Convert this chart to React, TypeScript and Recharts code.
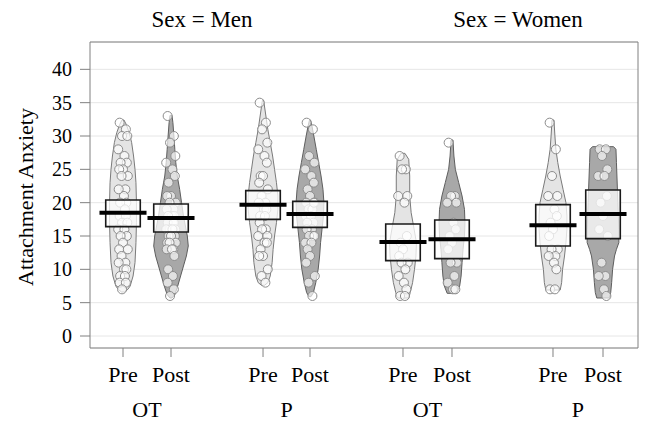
import React from 'react';
import { ComposedChart, Scatter, XAxis, YAxis, CartesianGrid } from 'recharts';

const groupNames = ['Men OT Pre', 'Men OT Post', 'Men P Pre', 'Men P Post', 'Women OT Pre', 'Women OT Post', 'Women P Pre', 'Women P Post'];
const xPositions = [0, 1, 2.917, 3.896, 5.833, 6.854, 8.958, 10];
const timeLabels = ['Pre', 'Post', 'Pre', 'Post', 'Pre', 'Post', 'Pre', 'Post'];
const conditionLabels = ['OT', 'P', 'OT', 'P'];
const sexLabels = ['Sex = Men', 'Sex = Women'];
const sexLabelPositions = [1.646, 8.229];
const yTicks = [0, 5, 10, 15, 20, 25, 30, 35, 40];

const means = [18.5, 17.7, 19.7, 18.3, 14.1, 14.5, 16.6, 18.3];
const bandLow = [16.4, 15.6, 17.5, 16.3, 11.3, 11.6, 13.5, 14.6];
const bandHigh = [20.4, 19.8, 21.8, 20.2, 16.8, 17.4, 19.7, 21.9];

// violin density profiles: [value, half width]
const violinProfiles: number[][][] = [
  [[6.6, 0.03], [7, 0.1], [7.5, 0.15], [9, 0.21], [11, 0.25], [14, 0.27], [17, 0.28], [20, 0.28], [23, 0.27], [25, 0.25], [27, 0.22], [29, 0.18], [30.5, 0.13], [31.7, 0.07], [32.4, 0.02]],
  [[5.7, 0.02], [6.2, 0.08], [7.5, 0.14], [9, 0.2], [10.5, 0.26], [12, 0.32], [13.5, 0.36], [15, 0.34], [16.5, 0.3], [18, 0.26], [20, 0.22], [22, 0.18], [24, 0.13], [26, 0.1], [28, 0.08], [30, 0.06], [32, 0.04], [33.1, 0.02]],
  [[7.6, 0.03], [8, 0.1], [9, 0.15], [11, 0.19], [13, 0.21], [15, 0.24], [17, 0.28], [19, 0.31], [21, 0.31], [23, 0.28], [25, 0.24], [27, 0.2], [29, 0.15], [31, 0.1], [33, 0.06], [35, 0.02], [35.4, 0.01]],
  [[5.9, 0.02], [6.5, 0.07], [8, 0.12], [10, 0.17], [12, 0.2], [14, 0.22], [16, 0.25], [18, 0.28], [20, 0.29], [22, 0.27], [24, 0.23], [26, 0.18], [28, 0.13], [30, 0.08], [31.5, 0.04], [32.4, 0.01]],
  [[5.7, 0.12], [6.5, 0.15], [8, 0.2], [10, 0.24], [12, 0.27], [14, 0.28], [16.5, 0.22], [18.5, 0.17], [21, 0.14], [24, 0.14], [26.5, 0.12], [27.4, 0.04]],
  [[6.4, 0.1], [7.5, 0.16], [9, 0.19], [11, 0.21], [13, 0.23], [15, 0.26], [17, 0.27], [19, 0.26], [21, 0.21], [23, 0.14], [25, 0.07], [27, 0.04], [29.4, 0.02]],
  [[6.9, 0.15], [8, 0.18], [10, 0.2], [12, 0.24], [14, 0.27], [16, 0.29], [18, 0.29], [20, 0.27], [22, 0.21], [24, 0.15], [26, 0.1], [28, 0.06], [30, 0.04], [32.4, 0.02]],
  [[5.7, 0.13], [6.5, 0.16], [8, 0.18], [10, 0.2], [12, 0.24], [13, 0.28], [14, 0.33], [16, 0.33], [18, 0.32], [20, 0.31], [22, 0.3], [24, 0.29], [26, 0.28], [28, 0.27], [28.4, 0.22]],
];

const pointValues: number[][] = [
  [32, 31, 30, 30, 28, 27, 26, 26, 25, 25, 24, 24, 22, 22, 21, 20, 20, 19, 18, 18, 17, 17, 16, 16, 15, 15, 14, 13, 13, 12, 11, 11, 10, 10, 9, 9, 8, 8, 7],
  [33, 30, 29, 27, 26, 25, 24, 23, 21, 21, 20, 20, 19, 19, 18, 18, 18, 17, 17, 17, 16, 16, 16, 16, 15, 15, 15, 14, 14, 14, 13, 13, 13, 12, 10, 9, 8, 7, 6],
  [35, 32, 31, 29, 28, 27, 26, 24, 24, 23, 22, 21, 20, 20, 19, 19, 18, 18, 17, 16, 16, 15, 15, 14, 14, 13, 12, 12, 10, 9, 8],
  [32, 31, 27, 26, 25, 24, 23, 22, 21, 20, 20, 19, 19, 18, 18, 17, 17, 16, 16, 15, 15, 15, 14, 14, 20, 13, 12, 11, 9, 8, 6],
  [27, 25, 25, 21, 21, 20, 15, 14, 13, 12, 11, 11, 10, 9, 8, 7, 6, 6],
  [29, 21, 21, 20, 20, 17, 16, 15, 14, 13, 11, 11, 9, 8, 7, 7],
  [32, 28, 24, 21, 21, 19, 18, 17, 16, 15, 13, 13, 12, 12, 11, 10, 7, 7],
  [28, 28, 27, 25, 24, 24, 21, 20, 18, 16, 15, 11, 9, 9, 7, 6],
];

const JITTER = [-0.07, 0.06, -0.02, 0.09, -0.1, 0.03, 0.08, -0.05, 0.0, -0.08, 0.1, -0.03, 0.05, -0.09, 0.02, 0.07, -0.06, 0.04];
const BOX_HW = 0.36;
const MEAN_HW = 0.49;
const X_DOMAIN: [number, number] = [-0.6875, 10.729];
const Y_DOMAIN: [number, number] = [-1.8, 44.1];
const FONT = '"Liberation Serif", "Times New Roman", serif';

const pairCenters = conditionLabels.map((_, i) => (xPositions[2 * i] + xPositions[2 * i + 1]) / 2);

const beans = groupNames.map((name, i) => {
  const x = xPositions[i];
  const prof = [...violinProfiles[i]].sort((a, b) => a[0] - b[0]);
  const outline = [
    ...prof.map(([y, w]) => ({ x: x + w, y })),
    ...prof.slice().reverse().map(([y, w]) => ({ x: x - w, y })),
  ];
  const pts = pointValues[i].map((v, j) => ({ x: x + JITTER[j % JITTER.length], y: v }));
  const box = [
    { x: x - BOX_HW, y: bandLow[i] },
    { x: x + BOX_HW, y: bandLow[i] },
    { x: x + BOX_HW, y: bandHigh[i] },
    { x: x - BOX_HW, y: bandHigh[i] },
  ];
  const mean = [
    { x: x - MEAN_HW, y: means[i] },
    { x: x + MEAN_HW, y: means[i] },
  ];
  return { name, outline, pts, box, mean, isPre: timeLabels[i] === 'Pre' };
});

// anchor data so the label axes get a domain
const sexAnchor = sexLabelPositions.map((x) => ({ x, y: 20 }));
const groupAnchor = pairCenters.map((x) => ({ x, y: 20 }));

const NoShape = () => <g />;
const PointShape = (p: any) => (
  <circle cx={p.cx} cy={p.cy} r={4.5} fill="#ffffff" fillOpacity={0.65} stroke="#8c8c8c" strokeWidth={1} />
);

const YLabel = (props: any) => {
  const vb = props.viewBox || { x: 0, y: 42, width: 90, height: 306 };
  const x = vb.x + 33;
  const y = vb.y + vb.height / 2 + 2;
  return (
    <text x={x} y={y} transform={`rotate(-90, ${x}, ${y})`} textAnchor="middle" fontSize={22} fontFamily={FONT} fill="#000">
      Attachment Anxiety
    </text>
  );
};

export default function App() {
  const els: React.ReactElement[] = [];
  beans.forEach((b, i) => {
    els.push(
      <Scatter
        key={`v${i}`}
        data={b.outline}
        shape={NoShape}
        line={{ stroke: b.isPre ? '#7a7a7a' : '#5e5e5e', strokeWidth: 1, fill: b.isPre ? '#e4e4e4' : '#a8a8a8', fillOpacity: 1 }}
        lineType="joint"
        lineJointType="linearClosed"
        legendType="none"
        isAnimationActive={false}
      />
    );
    els.push(
      <Scatter key={`p${i}`} data={b.pts} shape={PointShape} legendType="none" isAnimationActive={false} />
    );
    els.push(
      <Scatter
        key={`b${i}`}
        data={b.box}
        shape={NoShape}
        line={{ stroke: '#1a1a1a', strokeWidth: 1.6, fill: '#ffffff', fillOpacity: 0.75 }}
        lineType="joint"
        lineJointType="linearClosed"
        legendType="none"
        isAnimationActive={false}
      />
    );
    els.push(
      <Scatter
        key={`m${i}`}
        data={b.mean}
        shape={NoShape}
        line={{ stroke: '#000000', strokeWidth: 4, fill: 'none' }}
        lineType="joint"
        lineJointType="linear"
        legendType="none"
        isAnimationActive={false}
      />
    );
  });

  return (
    <div style={{ position: 'absolute', left: 0, top: 0, width: 646, height: 422, background: '#ffffff' }}>
      <ComposedChart width={646} height={422} margin={{ top: 0, right: 7, bottom: 0, left: 0 }}>
        <CartesianGrid vertical={false} stroke="#e6e6e6" strokeWidth={1} />
        <XAxis
          dataKey="x"
          type="number"
          domain={X_DOMAIN}
          allowDataOverflow
          ticks={xPositions}
          interval={0}
          tickFormatter={(v: number, i: number) => timeLabels[i]}
          height={42}
          tickSize={9}
          tickMargin={9}
          stroke="#808080"
          tick={{ fontSize: 22, fill: '#000', fontFamily: FONT }}
        />
        <XAxis
          xAxisId="grp"
          dataKey="x"
          type="number"
          domain={X_DOMAIN}
          allowDataOverflow
          ticks={pairCenters}
          interval={0}
          tickFormatter={(v: number, i: number) => conditionLabels[i]}
          height={32}
          axisLine={false}
          tickLine={false}
          tickSize={0}
          tickMargin={11}
          tick={{ fontSize: 22, fill: '#000', fontFamily: FONT }}
        />
        <XAxis
          xAxisId="top"
          dataKey="x"
          orientation="top"
          type="number"
          domain={X_DOMAIN}
          allowDataOverflow
          ticks={sexLabelPositions}
          interval={0}
          tickFormatter={(v: number, i: number) => sexLabels[i]}
          height={42}
          tickLine={false}
          tickSize={0}
          tickMargin={15}
          stroke="#808080"
          tick={{ fontSize: 23, fill: '#000', fontFamily: FONT }}
        />
        <YAxis
          dataKey="y"
          type="number"
          domain={Y_DOMAIN}
          allowDataOverflow
          ticks={yTicks}
          interval={0}
          width={90}
          tickSize={10}
          tickMargin={8}
          stroke="#808080"
          tick={{ fontSize: 20, fill: '#000', fontFamily: FONT }}
          label={<YLabel />}
        />
        <YAxis
          yAxisId="r"
          dataKey="y"
          orientation="right"
          type="number"
          domain={Y_DOMAIN}
          allowDataOverflow
          width={1}
          tick={false}
          tickLine={false}
          stroke="#808080"
        />
        <Scatter xAxisId="grp" data={groupAnchor} shape={NoShape} legendType="none" isAnimationActive={false} />
        <Scatter xAxisId="top" yAxisId="r" data={sexAnchor} shape={NoShape} legendType="none" isAnimationActive={false} />
        {els}
      </ComposedChart>
    </div>
  );
}
